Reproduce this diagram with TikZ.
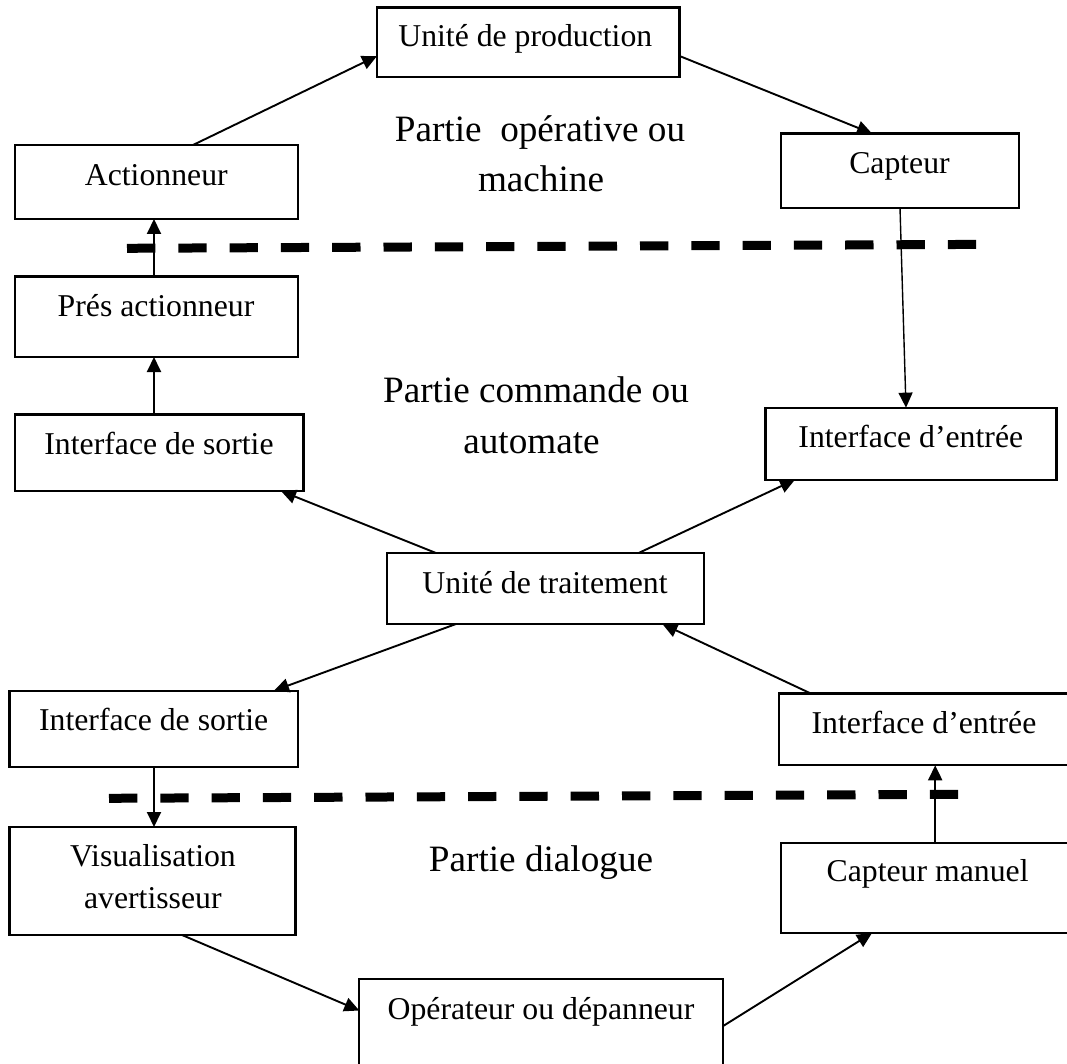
\documentclass[tikz,border=0pt]{standalone}
\usepackage{fontspec}
\setmainfont{Liberation Serif}
\usetikzlibrary{arrows.meta}

\tikzset{
  box/.style={draw=black, line width=2.2pt, rectangle, inner sep=0pt, outer sep=0pt},
  boxtext/.style={anchor=base, inner sep=0pt, font=\fontsize{31.75pt}{38pt}\selectfont},
  zonetext/.style={anchor=base, inner sep=0pt, font=\fontsize{37.2pt}{44pt}\selectfont},
  arr/.style={draw=black, line width=1.9pt, -{Triangle[length=15pt,width=14pt]}},
  thinarr/.style={arr, line width=1.4pt},
  sep/.style={draw=black, line width=9pt, line cap=butt, dash pattern=on 28.3pt off 23pt}
}

\begin{document}
\begin{tikzpicture}[x=1pt, y=-1pt]
  \useasboundingbox (0,0) rectangle (1067,1064);
  \fill[white] (0,0) rectangle (1067,1064);
  \clip (0,0) rectangle (1067,1064);

  % --- boxes ---
  \node[box, minimum width=302.5pt, minimum height=69.5pt] (prod)  at (528.25,42.25) {};
  \node[box, minimum width=282.7pt, minimum height=74pt]   (act)   at (156.6,182) {};
  \node[box, minimum width=238pt,   minimum height=74.5pt] (capt)  at (900,170.75) {};
  \node[box, minimum width=283pt,   minimum height=80.5pt] (pres)  at (156.5,316.75) {};
  \node[box, minimum width=288.5pt, minimum height=76.5pt] (ios1)  at (159.25,452.75) {};
  \node[box, minimum width=291pt,   minimum height=72pt]   (iie1)  at (911,443.65) {};
  \node[box, minimum width=317.4pt, minimum height=71pt]   (trait) at (545.3,588.5) {};
  \node[box, minimum width=288.5pt, minimum height=76.3pt] (ios2)  at (153.75,728.85) {};
  \node[box, minimum width=290pt,   minimum height=71.9pt] (iie2)  at (924,729.35) {};
  \node[box, minimum width=286pt,   minimum height=108pt]  (visu)  at (152.5,881) {};
  \node[box, minimum width=293pt,   minimum height=90.4pt] (captm) at (927.5,887.8) {};
  \node[box, minimum width=364pt,   minimum height=120pt]  (oper)  at (541.3,1039.3) {};

  % --- box labels ---
  \node[boxtext] (prodT)  at (525.3,46.5)  {Unité de production};
  \node[boxtext] (actT)   at (156.3,185.6) {Actionneur};
  \node[boxtext] (captT)  at (899.5,173.7) {Capteur};
  \node[boxtext] (presT)  at (156,316.8)   {Prés actionneur};
  \node[boxtext] (ios1T)  at (159,454.7)   {Interface de sortie};
  \node[boxtext] (iie1T)  at (910.8,447)   {Interface d’entrée};
  \node[boxtext] (traitT) at (545,593.3)   {Unité de traitement};
  \node[boxtext] (ios2T)  at (153.7,730)   {Interface de sortie};
  \node[boxtext] (iie2T)  at (924,733)     {Interface d’entrée};
  \node[boxtext] (visuT1) at (153,866)     {Visualisation};
  \node[boxtext] (visuT2) at (152.8,908)   {avertisseur};
  \node[boxtext] (captmT) at (927.6,881)   {Capteur manuel};
  \node[boxtext] (operT)  at (541,1019)    {Opérateur ou dépanneur};

  % --- zone titles ---
  \node[zonetext] (zop1) at (540,142)   {Partie\ \ opérative ou};
  \node[zonetext] (zop2) at (541,192)   {machine};
  \node[zonetext] (zpc1) at (536,402)   {Partie commande ou};
  \node[zonetext] (zpc2) at (531.5,453) {automate};
  \node[zonetext] (zpd)  at (541,871)   {Partie dialogue};

  % --- signal flow ---
  \draw[arr] ([xshift=36.4pt]act.north) -- ([yshift=-48.5pt]prod.north west);
  \draw[arr] ([yshift=-48.5pt]prod.north east) -- ([xshift=-28pt]capt.north);
  \draw[thinarr] (capt.south) -- ([xshift=-5pt]iie1.north);
  \draw[arr] ([xshift=-2.5pt]pres.north) -- ([xshift=-2.5pt]pres.north |- act.south);
  \draw[arr] ([xshift=-5.25pt]ios1.north) -- ([xshift=-5.25pt]ios1.north |- pres.south);
  \draw[arr] ([xshift=-109.3pt]trait.north) -- ([xshift=121.75pt]ios1.south);
  \draw[arr] ([xshift=93.3pt]trait.north) -- ([xshift=-116pt]iie1.south);
  \draw[arr] ([xshift=-89.3pt]trait.south) -- ([xshift=120.25pt]ios2.north);
  \draw[arr] ([xshift=-113.4pt]iie2.north) -- ([xshift=117.1pt]trait.south);
  \draw[arr] ([xshift=0.25pt]ios2.south) -- ([xshift=0.25pt]ios2.south |- visu.north);
  \draw[arr] ([xshift=7.7pt]captm.north) -- ([xshift=7.7pt]captm.north |- iie2.south);
  \draw[arr] ([xshift=29.5pt]visu.south) -- ([yshift=-31.2pt]oper.north west);
  \draw[arr] ([yshift=-46.6pt]oper.north east) -- ([xshift=-55.5pt]captm.south);

  % --- boundaries between the parts ---
  \coordinate (s1a) at (127,248.3);
  \coordinate (s1b) at (977.5,244.4);
  \coordinate (s2a) at (109,798.3);
  \coordinate (s2b) at (959.8,794.3);
  \draw[sep] (s1a) -- (s1b);
  \draw[sep] (s2a) -- (s2b);
\end{tikzpicture}
\end{document}
